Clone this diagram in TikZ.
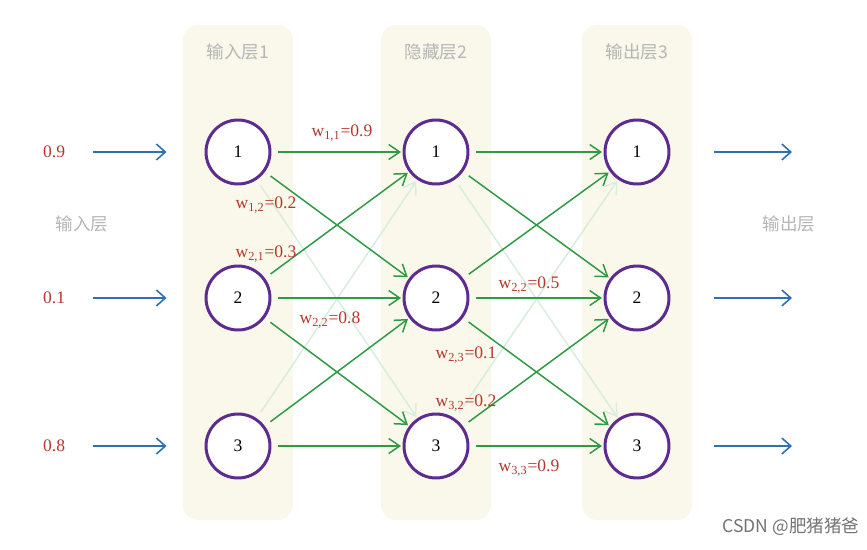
\documentclass[tikz,border=0pt]{standalone}
\usepackage{fontspec}
\setmainfont{Liberation Serif}
\newfontfamily\cjk{Noto Sans CJK SC}
\usetikzlibrary{arrows.meta}
\definecolor{panel}{HTML}{FAF8EB}
\definecolor{ring}{HTML}{5E2B8F}
\definecolor{wred}{HTML}{B5372B}
\definecolor{conn}{HTML}{2E9A44}
\definecolor{feed}{HTML}{2F70B2}
\definecolor{caption}{HTML}{B5B5B5}
\tikzset{
	neuron/.style={circle,draw=ring,line width=1.7pt,fill=white,minimum size=1.28cm,inner sep=0pt,font=\fontsize{10}{12}\selectfont},
	title/.style={text=caption,font=\cjk\fontsize{10}{12}\selectfont},
	val/.style={text=wred,font=\fontsize{10}{12}\selectfont},
	wlabel/.style={text=wred,inner sep=1pt,font=\fontsize{10}{12}\selectfont},
	link/.style={draw=conn,line width=0.85pt,-{Straight Barb[length=2.2mm,width=3mm]},shorten <=0.14cm,shorten >=0.03cm},
	faint/.style={link,draw=conn!18},
	feedarrow/.style={draw=feed,line width=0.9pt,-{Straight Barb[length=1.8mm,width=3.2mm]}},
	watermark/.style={text=black!55,font=\cjk\fontsize{10}{12}\selectfont}
}
\begin{document}
\begin{tikzpicture}[x=0.02cm,y=-0.02cm]
	\useasboundingbox (0,0) rectangle (867,549);
	% cột nền của từng lớp
	\foreach \x/\t [count=\k] in {238/输入层1,436/隐藏层2,637/输出层3}{
		\fill[panel,rounded corners=0.3cm] (\x-55,25) rectangle (\x+55,520);
		\node[title] (t\k) at (\x,52) {\t};
	}
	\foreach \y [count=\i] in {152,298,446}{
		\node[neuron] (in\i) at (238,\y) {\i};
		\node[neuron] (hid\i) at (436,\y) {\i};
		\node[neuron] (out\i) at (637,\y) {\i};
	}
	% đầu vào, đầu ra
	\foreach \v [count=\i] in {0.9,0.1,0.8}{
		\node[val,anchor=west] (v\i) at (37,0 |- in\i) {\v};
		\draw[feedarrow,shorten <=0.44cm,shorten >=0.76cm] (v\i.east) -- (in\i.west);
		\coordinate (o\i) at (792,0 |- out\i);
		\draw[feedarrow,shorten <=0.88cm] (out\i.east) -- (o\i);
	}
	\node[title] (inlbl) at (82,224) {输入层};
	\node[title] (outlbl) at (789,224) {输出层};
	% các liên kết
	\foreach \i/\j in {1/3,3/1}{
		\draw[faint] (in\i) -- (hid\j);
		\draw[faint] (hid\i) -- (out\j);
	}
	\foreach \i/\j in {1/1,1/2,2/1,2/2,2/3,3/2,3/3}{
		\draw[link] (in\i) -- (hid\j);
		\draw[link] (hid\i) -- (out\j);
	}
	\node[wlabel] (w11) at (342,133) {w\textsubscript{1,1}=0.9};
	\node[wlabel] (w12) at (266,205) {w\textsubscript{1,2}=0.2};
	\node[wlabel] (w21) at (266,254) {w\textsubscript{2,1}=0.3};
	\node[wlabel] (w22) at (330,320) {w\textsubscript{2,2}=0.8};
	\node[wlabel] (u22) at (529,285) {w\textsubscript{2,2}=0.5};
	\node[wlabel] (u23) at (466,355) {w\textsubscript{2,3}=0.1};
	\node[wlabel] (u32) at (466,403) {w\textsubscript{3,2}=0.2};
	\node[wlabel] (u33) at (529,468) {w\textsubscript{3,3}=0.9};
	\node[watermark] (wm) at (791,527) {CSDN @肥猪猪爸};
\end{tikzpicture}
\end{document}
